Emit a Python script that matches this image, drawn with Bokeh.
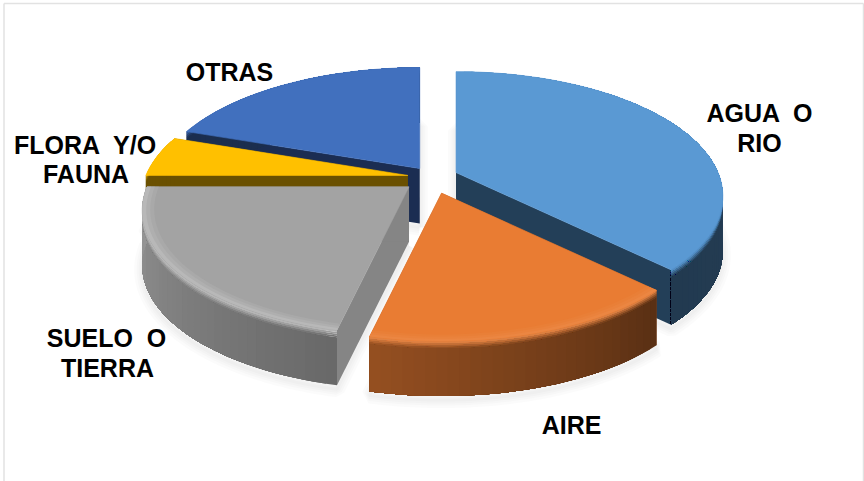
import numpy as np
from bokeh.plotting import figure
from bokeh.models import Range1d, ColumnDataSource
from bokeh.core.properties import value
from bokeh.embed import file_html
from bokeh.resources import INLINE

# data (clockwise from 12 o'clock)
categories = ["AGUA O RIO", "AIRE", "SUELO O TIERRA", "FLORA Y/O FAUNA", "OTRAS"]
shares = [37.4, 16.2, 21.4, 5.3, 19.7]
explode = [1.02, 1.3, 1.2, 1.0, 0.88]
top_colors = ["#5A99D3", "#E97C33", "#A3A3A3", "#FFC000", "#4170BE"]
cut_colors = ["#233F58", "#8A4A1D", "#858585", "#6A5000", "#1B2D52"]
rim_mix = [0.0, 0.1, 0.3, 0.0, 0.0]
draw_order = [4, 3, 0, 2, 1]

label_lines = ["AGUA \u00a0O", "RIO", "AIRE", "SUELO \u00a0O", "TIERRA", "FLORA \u00a0Y/O", "FAUNA", "OTRAS"]
label_x = [759.5, 759, 571, 106, 107, 85, 85.5, 229]
label_y = [112, 142, 424, 337, 367, 144, 173, 71]

# projection of the tilted pie
CX, CY, RX, RY, P, DEPTH = 432, 177, 262, 120, 0.189, 55
EX, EY = 25, 12.5
BEVEL = 7


def proj(theta, r=1.0):
    den = 1 + P * np.cos(theta)
    return RX * r * np.sin(theta) / den, -RY * r * np.cos(theta) / den


def rgb(h):
    return np.array([int(h[i:i + 2], 16) for i in (1, 3, 5)], float)


def mix(a, b, t):
    c = rgb(a) * (1 - t) + rgb(b) * t
    return "#%02x%02x%02x" % tuple(int(round(v)) for v in c)


def shade(h, f):
    c = np.clip(rgb(h) * f, 0, 255)
    return "#%02x%02x%02x" % tuple(int(round(v)) for v in c)


def wall_factor(deg):
    return float(np.interp(deg, [60, 134, 193, 269.9, 270.1, 360],
                           [0.40, 0.38, 0.64, 0.92, 0.42, 0.40]))


edges = np.radians(np.concatenate([[0], np.cumsum(shares)]) * 3.6)

p = figure(width=864, height=481, output_backend="svg", toolbar_location=None,
           x_range=Range1d(0, 864), y_range=Range1d(481, 0),
           x_axis_location=None, y_axis_location=None, min_border=0,
           outline_line_color=None, margin=(0, 0, 0, 0))
p.grid.visible = False
p.background_fill_color = "white"
p.border_fill_color = "white"

# chart frame
p.segment([3.5, 3.5, 863], [3, 3, 3], [3.5, 863, 863], [481, 3, 481], line_color="#e2e2e2", line_width=1.5)

# soft shadow under the exploded slices
sx, sy = [], []
for i in range(len(shares)):
    a, b = edges[i], edges[i + 1]
    m = (a + b) / 2
    ox = CX + EX * explode[i] * np.sin(m)
    oy = CY - EY * explode[i] * np.cos(m)
    t = np.linspace(a, b, 60)
    x, y = proj(t)
    sx.append(np.r_[ox, ox + x, ox].tolist())
    sy.append((np.r_[oy, oy + y, oy] + DEPTH + 4).tolist())
for w in (16, 11, 7, 3):
    p.multi_line(sx, sy, line_color="#808080", line_alpha=0.03, line_width=w)

for i in draw_order:
    a, b = edges[i], edges[i + 1]
    m = (a + b) / 2
    ox = CX + EX * explode[i] * np.sin(m)
    oy = CY - EY * explode[i] * np.cos(m)
    top, cut = top_colors[i], cut_colors[i]

    n = max(int(np.degrees(b - a) / 2), 4)
    t = np.linspace(a, b, n + 1)
    x, y = proj(t)
    x, y = x + ox, y + oy

    # flat cut faces
    qx, qy, qc = [], [], []
    for th in (a, b):
        ex_, ey_ = proj(th)
        qx.append([ox, ox + ex_, ox + ex_, ox])
        qy.append([oy, oy + ey_, oy + ey_ + DEPTH, oy + DEPTH])
        qc.append(cut)
    p.patches(qx, qy, fill_color=qc, line_color=None)

    # outer wall: each strip runs on to the end of the arc so no seams show
    levels = [(BEVEL * j / 4, BEVEL * (j + 1) / 4, (j + 0.5) / 4) for j in range(4)] + [(BEVEL, DEPTH, 1.0)]
    qx, qy, qc = [], [], []
    for d0, d1, tt in levels[::-1]:
        for k in range(n):
            mid = np.degrees((t[k] + t[k + 1]) / 2)
            col = mix(mix(top, "#ffffff", rim_mix[i]), shade(top, wall_factor(mid)), tt)
            qx.append(np.r_[x[k:], x[k:][::-1]].tolist())
            qy.append(np.r_[y[k:] + d0, (y[k:] + d1)[::-1]].tolist())
            qc.append(col)
    p.patches(qx, qy, fill_color=qc, line_color=None)

    # top face
    p.patch(np.r_[ox, x].tolist(), np.r_[oy, y].tolist(), fill_color=top, line_color=top, line_width=0.6)

    # soft highlight along the outer edge of the top face
    if rim_mix[i] > 0:
        for r, f in ((0.955, 0.2), (0.97, 0.45), (0.985, 0.75)):
            xi, yi = proj(t, r)
            rx_ = np.r_[x, (xi + ox)[::-1]]
            ry_ = np.r_[y, (yi + oy)[::-1]]
            p.patch(rx_.tolist(), ry_.tolist(), fill_color=mix(top, "#ffffff", rim_mix[i] * f), line_color=None)

src = ColumnDataSource(dict(x=label_x, y=label_y, text=label_lines))
p.text("x", "y", text="text", source=src, text_font=value("Liberation Sans"), text_font_style="bold",
       text_font_size="25px", text_color="#000000", text_align="center", text_baseline="middle")

open("out.html", "w").write(file_html(p, INLINE))
